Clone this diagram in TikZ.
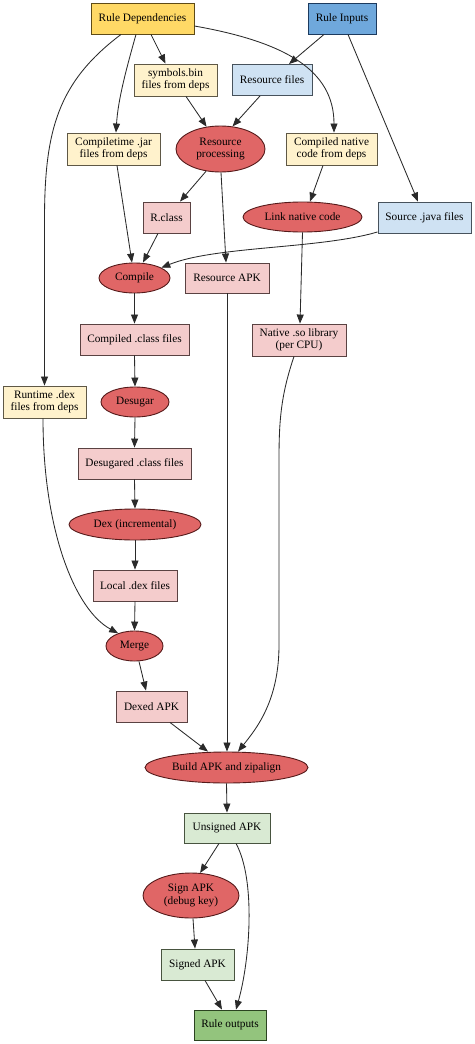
\documentclass[tikz,border=0pt]{standalone}
\usepackage{fontspec}
\setmainfont{Liberation Serif}
\usetikzlibrary{shapes.geometric,arrows.meta}
\definecolor{cGold}{HTML}{FFD966}\definecolor{bGold}{HTML}{5E4B16}
\definecolor{cBlue}{HTML}{6FA8DC}\definecolor{bBlue}{HTML}{1C3A5E}
\definecolor{cPale}{HTML}{FFF2CC}\definecolor{bPale}{HTML}{5F5846}
\definecolor{cLBlue}{HTML}{CFE2F3}\definecolor{bLBlue}{HTML}{47525C}
\definecolor{cPink}{HTML}{F4CCCC}\definecolor{bPink}{HTML}{5A4242}
\definecolor{cRed}{HTML}{E06666}\definecolor{bRed}{HTML}{551A1A}
\definecolor{cLGreen}{HTML}{D9EAD3}\definecolor{bLGreen}{HTML}{48543F}
\definecolor{cGreen}{HTML}{93C47D}\definecolor{bGreen}{HTML}{2B4320}
\definecolor{edge}{HTML}{2A2A2A}
\tikzset{
  base/.style={inner sep=0pt, align=center, line width=0.9pt, font=\fontsize{11.3}{12.5}\selectfont},
  box/.style={base, rectangle, minimum width=#1},
  gold/.style={box=#1, fill=cGold, draw=bGold, minimum height=31pt},
  blue/.style={box=#1, fill=cBlue, draw=bBlue, minimum height=31pt},
  pale/.style={box=#1, fill=cPale, draw=bPale, minimum height=32pt},
  lblue/.style={box=#1, fill=cLBlue, draw=bLBlue, minimum height=31pt},
  pink/.style={box=#1, fill=cPink, draw=bPink, minimum height=31pt},
  lgreen/.style={box=#1, fill=cLGreen, draw=bLGreen, minimum height=31pt},
  green/.style={box=#1, fill=cGreen, draw=bGreen, minimum height=31pt},
  proc/.style={base, ellipse, fill=cRed, draw=bRed},
  conn/.style={draw=edge, line width=0.85pt, -{Triangle[length=9pt,width=7pt]}},
}
\begin{document}
\begin{tikzpicture}[x=1pt,y=-1pt]
\useasboundingbox (0,0) rectangle (474,1044);
% nodes
\node[gold=103pt] (RD) at (142.5,18.5) {Rule Dependencies};
\node[blue=68pt] (RI) at (342,18.5) {Rule Inputs};
\node[pale=83pt] (SB) at (175.5,80) {symbols.bin\\files from deps};
\node[lblue=80pt] (RF) at (272,80) {Resource files};
\node[pale=93pt] (CJ) at (113.5,149) {Compiletime .jar\\files from deps};
\node[proc, minimum width=89pt, minimum height=46pt] (RP) at (220.5,149) {Resource\\processing};
\node[pale=91pt] (CN) at (331.5,149) {Compiled native\\code from deps};
\node[pink=47pt] (RC) at (166.5,217.5) {R.class};
\node[proc, minimum width=119pt, minimum height=30pt] (LN) at (302.5,217) {Link native code};
\node[lblue=93pt] (SJ) at (424.5,217.5) {Source .java files};
\node[proc, minimum width=71pt, minimum height=30pt] (CO) at (134.5,278) {Compile};
\node[pink=84pt, minimum height=30pt] (RA) at (227,278) {Resource APK};
\node[pink=109pt] (CC) at (134.5,339.5) {Compiled .class files};
\node[pink=94pt, minimum height=32pt] (NS) at (299,340) {Native .so library\\(per CPU)};
\node[pale=83pt] (RT) at (44.5,402) {Runtime .dex\\files from deps};
\node[proc, minimum width=68pt, minimum height=30pt] (DS) at (135,402) {Desugar};
\node[pink=113pt] (DC) at (134.5,463.5) {Desugared .class files};
\node[proc, minimum width=132pt, minimum height=31pt] (DX) at (135,524.5) {Dex (incremental)};
\node[pink=84pt] (LD) at (135,585.5) {Local .dex files};
\node[proc, minimum width=57pt, minimum height=30pt] (MG) at (134.5,646) {Merge};
\node[pink=71pt] (DA) at (151.5,706.5) {Dexed APK};
\node[proc, minimum width=163pt, minimum height=31pt] (BA) at (226.5,767.5) {Build APK and zipalign};
\node[lgreen=86pt, minimum height=30pt] (UA) at (227,828) {Unsigned APK};
\node[proc, minimum width=96pt, minimum height=45pt] (SA) at (191,895.5) {Sign APK\\(debug key)};
\node[lgreen=73pt] (SG) at (197.5,964.5) {Signed APK};
\node[green=72pt, minimum height=30pt] (RO) at (230,1025) {Rule outputs};
% connectors
\draw[conn] ([xshift=-21.5pt]RD.south) .. controls (58,82) and (44.5,130) .. (44.5,220) -- (RT.north);
\draw[conn] ([xshift=-6.5pt]RD.south) .. controls (126,70) and (118,100) .. ([xshift=2.5pt]CJ.north);
\draw[conn] ([xshift=8.5pt]RD.south) -- ([xshift=-10pt]SB.north);
\draw[conn] ([yshift=-7.5pt]RD.east) .. controls (285,42) and (334,70) .. ([xshift=2.5pt]CN.north);
\draw[conn] ([xshift=-18pt]RI.south) -- ([xshift=17pt]RF.north);
\draw[conn] ([xshift=6pt]RI.south) -- ([xshift=-6.5pt]SJ.north);
\draw[conn] ([xshift=10.5pt]SB.south) -- (RP.122);
\draw[conn] ([xshift=-12pt]RF.south) -- (RP.62);
\draw[conn] ([xshift=3.5pt]CJ.south) -- ([xshift=-2.5pt]CO.north);
\draw[conn] (RP.237) -- ([xshift=13.5pt]RC.north);
\draw[conn] ([xshift=0.5pt]RP.south) -- ([xshift=-1pt]RA.north);
\draw[conn] ([xshift=-8.5pt]CN.south) -- ([xshift=7.5pt]LN.north);
\draw[conn] ([yshift=1.5pt]SJ.south west) .. controls (320,249) and (215,246) .. (CO.21);
\draw[conn] ([xshift=-8.5pt]RC.south) -- ([xshift=8.5pt]CO.north);
\draw[conn] (LN.south) -- ([xshift=1pt]NS.north);
\draw[conn] (CO.south) -- (CC.north);
\draw[conn] (CC.south) -- (DS.north);
\draw[conn] (DS.south) -- (DC.north);
\draw[conn] (DC.south) -- (DX.north);
\draw[conn] (DX.south) -- (LD.north);
\draw[conn] (LD.south) -- (MG.north);
\draw[conn] ([xshift=-1.5pt]RT.south) .. controls (43,530) and (75,610) .. (MG.142);
\draw[conn] ([xshift=4.5pt]MG.south) -- ([xshift=-5.5pt]DA.north);
\draw[conn] ([xshift=18.5pt]DA.south) -- ([xshift=-18.5pt]BA.north);
\draw[conn] (RA.south) -- ([xshift=0.5pt]BA.north);
\draw[conn] ([xshift=-5pt]NS.south) .. controls (281,395) and (279,420) .. (279,460) -- (279,645) .. controls (279,700) and (257,728) .. ([xshift=11.5pt]BA.north);
\draw[conn] (BA.south) -- (UA.north);
\draw[conn] ([xshift=-8pt]UA.south) -- (SA.68);
\draw[conn] ([xshift=9pt]UA.south) .. controls (256,880) and (250,960) .. ([xshift=6pt]RO.north);
\draw[conn] ([xshift=2pt]SA.south) -- ([xshift=-2.5pt]SG.north);
\draw[conn] ([xshift=7.5pt]SG.south) -- ([xshift=-8pt]RO.north);
\end{tikzpicture}
\end{document}
